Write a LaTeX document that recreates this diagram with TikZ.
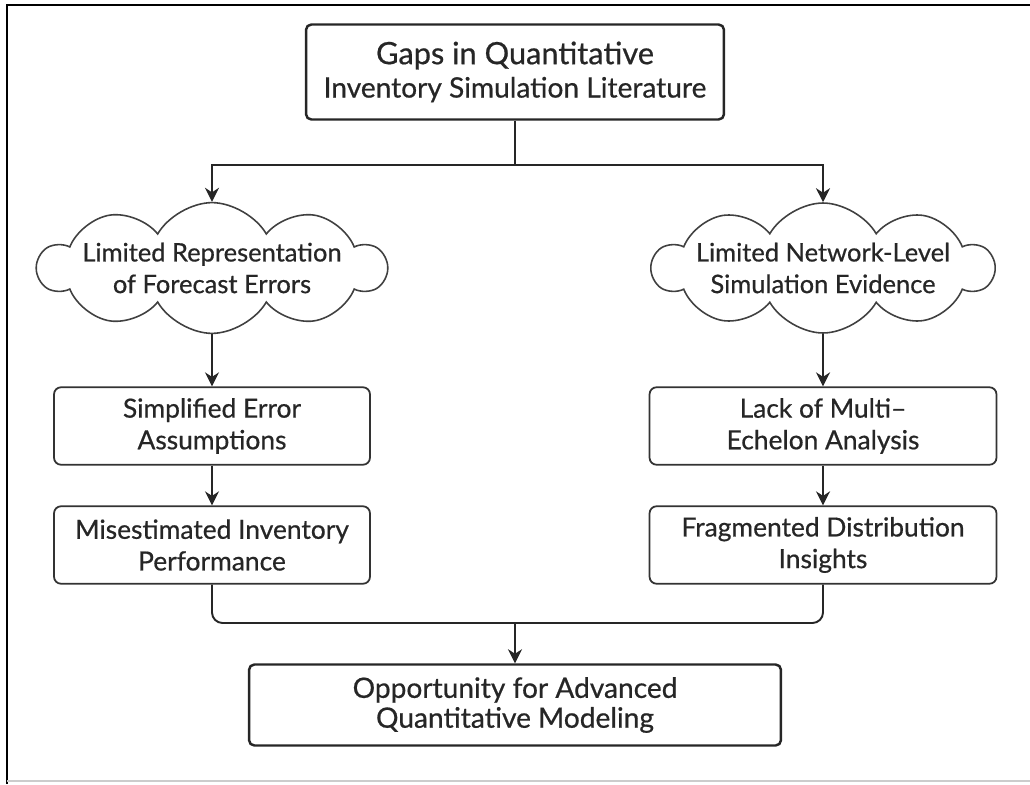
\documentclass[tikz,border=0pt]{standalone}
\usepackage{fontspec}
\setmainfont{Lato}[FakeBold=0.6]
\usetikzlibrary{shapes.symbols,arrows.meta,positioning,calc}

\begin{document}
\begin{tikzpicture}[x=0.02cm, y=-0.02cm,
    mainbox/.style={
        rectangle, draw=black!85, line width=1.4pt, rounded corners=3pt,
        align=center, text=black!85, inner sep=2pt,
        font=\fontsize{16}{17}\selectfont
      },
    stepbox/.style={
        rectangle, draw=black!80, line width=1pt, rounded corners=4pt,
        align=center, text=black!85, inner sep=2pt,
        minimum height=1.55cm, font=\fontsize{15}{18}\selectfont
      },
    gapcloud/.style={
        cloud, draw=black!75, line width=0.9pt, cloud puffs=10,
        cloud puff arc=120, cloud ignores aspect, align=center, text=black!85,
        inner xsep=-3pt, inner ysep=0pt, minimum width=6.6cm, minimum height=2.6cm,
        font=\fontsize{14.5}{18}\selectfont
      },
    flow/.style={-{Stealth[length=8pt,width=8pt]}, line width=1.1pt, draw=black!85},
    joint/.style={line width=1.1pt, draw=black!85},
  ]
  % page and frame
  \useasboundingbox (0,0) rectangle (1030,784);
  \draw [line width=1.2pt] (7,784) -- (7,5) -- (1030,5);
  \draw [black!20, line width=0.6pt] (7,781) -- (1030,781);

  % top and bottom boxes
  \node [mainbox, minimum width=8.36cm, minimum height=1.9cm] (gaps) at (515,72)
    {{\fontsize{17.5}{18.5}\selectfont Gaps in Quantitative}\\[2pt]Inventory Simulation Literature};
  \node [mainbox, minimum width=10.64cm, minimum height=1.62cm] (opp) at (515,705)
    {Opportunity for Advanced\\Quantitative Modeling};

  % left column
  \node [gapcloud] (forecast) at (212,268) {Limited Representation\\of Forecast Errors};
  \node [stepbox, minimum width=6.32cm] (simplified) at (212,426) {Simplified Error\\Assumptions};
  \node [stepbox, minimum width=6.32cm] (misest) at (212,545) {Misestimated Inventory\\Performance};

  % right column
  \node [gapcloud] (network) at (823,268) {Limited Network-Level\\Simulation Evidence};
  \node [stepbox, minimum width=6.94cm] (echelon) at (823,426) {Lack of Multi--\\Echelon Analysis};
  \node [stepbox, minimum width=6.94cm] (fragmented) at (823,545) {Fragmented Distribution\\Insights};

  \coordinate (split) at (515,165);
  \coordinate (merge) at (515,623);

  % connectors
  \draw [joint] (gaps.south) -- (split);
  \draw [flow] (split) -| (forecast.north);
  \draw [flow] (split) -| (network.north);
  \draw [flow] (forecast.south) -- (simplified.north);
  \draw [flow] (simplified) -- (misest);
  \draw [flow] (network.south) -- (echelon.north);
  \draw [flow] (echelon) -- (fragmented);
  \draw [joint, rounded corners=6pt] (misest.south) |- (merge) -| (fragmented.south);
  \draw [flow] (merge) -- (opp.north);
\end{tikzpicture}
\end{document}
